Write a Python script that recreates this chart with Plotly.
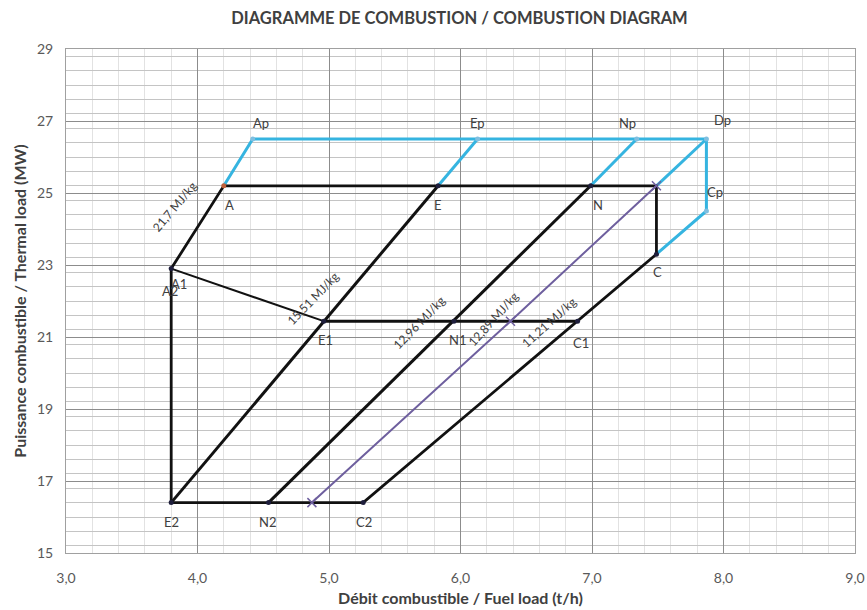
import plotly.graph_objects as go

# ---- data ----
point_names = ["A", "Ap", "E", "Ep", "N", "Np", "D", "Dp", "Cp", "C",
               "A1", "E1", "N1", "M1", "C1", "E2", "N2", "M2", "C2"]
point_x = [4.20, 4.42, 5.83, 6.13, 6.99, 7.34, 7.49, 7.87, 7.87, 7.49,
           3.80, 4.96, 5.95, 6.38, 6.89, 3.80, 4.54, 4.87, 5.26]
point_y = [25.2, 26.5, 25.2, 26.5, 25.2, 26.5, 25.2, 26.5, 24.5, 23.3,
           22.9, 21.44, 21.44, 21.44, 21.44, 16.4, 16.4, 16.4, 16.4]

# cyan (p) contour and branches
cyan_path = ["A", "Ap", "Dp", "Cp", "C"]
cyan_branches = [("E", "Ep"), ("N", "Np"), ("D", "Dp")]
# black contour and lines
black_path = ["A1", "A", "D", "C", "C2", "E2", "A1"]
black_thick = [("E", "E2"), ("N", "N2"), ("E1", "C1")]
black_thin = [("A1", "E1")]
# purple line
purple_path = ["D", "M1", "M2"]

point_labels = ["Ap", "A", "Ep", "E", "Np", "N", "Dp", "Cp", "C",
                "A2", "A1", "E1", "N1", "C1", "E2", "N2", "C2"]
label_anchor = ["Ap", "A", "Ep", "E", "Np", "N", "Dp", "Cp", "C",
                "A1", "A1", "E1", "N1", "C1", "E2", "N2", "C2"]

cv_labels = ["21,7 MJ/kg", "15,51 MJ/kg", "12,96 MJ/kg", "12,89 MJ/kg", "11,21 MJ/kg"]
cv_anchor = [("A", "A1"), ("E1", "E1"), ("N1", "N1"), ("M1", "M1"), ("C1", "C1")]

title = "DIAGRAMME DE COMBUSTION / COMBUSTION DIAGRAM"
x_title = "Débit combustible / Fuel load (t/h)"
y_title = "Puissance combustible / Thermal load (MW)"

# ---- helpers ----
P = {n: (x, y) for n, x, y in zip(point_names, point_x, point_y)}


def path_xy(names):
    return [P[n][0] for n in names], [P[n][1] for n in names]


def segs_xy(segs):
    xs, ys = [], []
    for a, b in segs:
        xs += [P[a][0], P[b][0], None]
        ys += [P[a][1], P[b][1], None]
    return xs, ys


FONT = "Lato, Open Sans, Liberation Sans"
CYAN = "#35b4e0"
BLACK = "#111111"
PURPLE = "#6e5f9e"

fig = go.Figure()

x, y = path_xy(cyan_path)
fig.add_trace(go.Scatter(x=x, y=y, mode="lines", line=dict(color=CYAN, width=3)))
x, y = segs_xy(cyan_branches)
fig.add_trace(go.Scatter(x=x, y=y, mode="lines", line=dict(color=CYAN, width=3)))

x, y = path_xy(black_path)
fig.add_trace(go.Scatter(x=x, y=y, mode="lines", line=dict(color=BLACK, width=2.8)))
x, y = segs_xy(black_thick)
fig.add_trace(go.Scatter(x=x, y=y, mode="lines", line=dict(color=BLACK, width=3)))
x, y = segs_xy(black_thin)
fig.add_trace(go.Scatter(x=x, y=y, mode="lines", line=dict(color=BLACK, width=2)))

x, y = path_xy(purple_path)
fig.add_trace(go.Scatter(x=x, y=y, mode="lines+markers", line=dict(color=PURPLE, width=2),
                         marker=dict(symbol="x-thin", size=9, line=dict(color=PURPLE, width=1.5))))

# markers
cyan_pts = ["Ap", "Ep", "Np", "Dp", "Cp"]
x, y = path_xy(cyan_pts)
fig.add_trace(go.Scatter(x=x, y=y, mode="markers", marker=dict(color="#7fbfe0", size=5)))
dark_pts = ["A1", "E1", "N1", "C1", "E2", "N2", "C2", "N", "C", "E"]
x, y = path_xy(dark_pts)
fig.add_trace(go.Scatter(x=x, y=y, mode="markers", marker=dict(color="#1e1e3c", size=5)))
x, y = path_xy(["A"])
fig.add_trace(go.Scatter(x=x, y=y, mode="markers", marker=dict(color="#c0603a", size=5)))

# point labels (pixel offsets are style)
shifts = {"Ap": (8, 16), "A": (6, -19), "Ep": (0, 16), "E": (0, -19), "Np": (-9, 16),
          "N": (7, -19), "Dp": (16, 19), "Cp": (9, 19), "C": (1, -18),
          "A2": (-1, -22), "A1": (8, -15), "E1": (2, -19), "N1": (4, -19),
          "C1": (3, -22), "E2": (0, -19), "N2": (-1, -19), "C2": (1, -19)}
for lab, anc in zip(point_labels, label_anchor):
    dx, dy = shifts[lab]
    fig.add_annotation(x=P[anc][0], y=P[anc][1], text=lab, showarrow=False,
                       xshift=dx, yshift=dy,
                       font=dict(family=FONT, size=13, color="#404040"))

cv_style = [(-23, 21, -50), (-11, 23, -46), (-35, -1, -46), (-17, 3, -48), (-29, -1, -42)]
for lab, (a, b), (dx, dy, ang) in zip(cv_labels, cv_anchor, cv_style):
    xa = (P[a][0] + P[b][0]) / 2
    ya = (P[a][1] + P[b][1]) / 2
    fig.add_annotation(x=xa, y=ya, text=lab, showarrow=False, xshift=dx, yshift=dy,
                       textangle=ang,
                       font=dict(family=FONT, size=12, color="#404040"))

fig.update_layout(
    width=867, height=610,
    margin=dict(l=66, r=12, t=49, b=57, autoexpand=False),
    paper_bgcolor="white", plot_bgcolor="white",
    showlegend=False,
    separators=", ",
    title=dict(text=title, x=0.53, xanchor="center", y=0.97, yanchor="middle",
               yref="container",
               font=dict(family=FONT, size=16.5, color="#404040", weight="bold")),
    font=dict(family=FONT, color="#595959"),
)
fig.update_xaxes(range=[3, 9], dtick=1, tick0=3, tickformat=".1f", automargin=False,
                 showgrid=True, gridcolor="#8c8c8c", gridwidth=1,
                 minor=dict(dtick=0.2, showgrid=True, gridcolor="#e2e2e2", gridwidth=1),
                 showline=True, mirror=True, linecolor="#a0a0a0", linewidth=1,
                 zeroline=False, ticks="", ticklabelstandoff=12,
                 tickfont=dict(family=FONT, size=14, color="#595959"),
                 title=dict(text=x_title, standoff=8,
                            font=dict(family=FONT, size=16, color="#404040", weight="bold")))
fig.update_yaxes(range=[15, 29], dtick=2, tick0=15, automargin=False,
                 showgrid=True, gridcolor="#8c8c8c", gridwidth=1,
                 minor=dict(dtick=0.4, showgrid=True, gridcolor="#c4c4c4", gridwidth=1),
                 showline=True, mirror=True, linecolor="#a0a0a0", linewidth=1,
                 zeroline=False, ticks="", ticklabelstandoff=9,
                 tickfont=dict(family=FONT, size=14, color="#595959"),
                 title=dict(text=y_title, standoff=6,
                            font=dict(family=FONT, size=16, color="#404040", weight="bold")))

fig.write_html("out.html", config={"displayModeBar": False},
               post_script="document.body.style.margin='0';document.body.style.padding='0';")
